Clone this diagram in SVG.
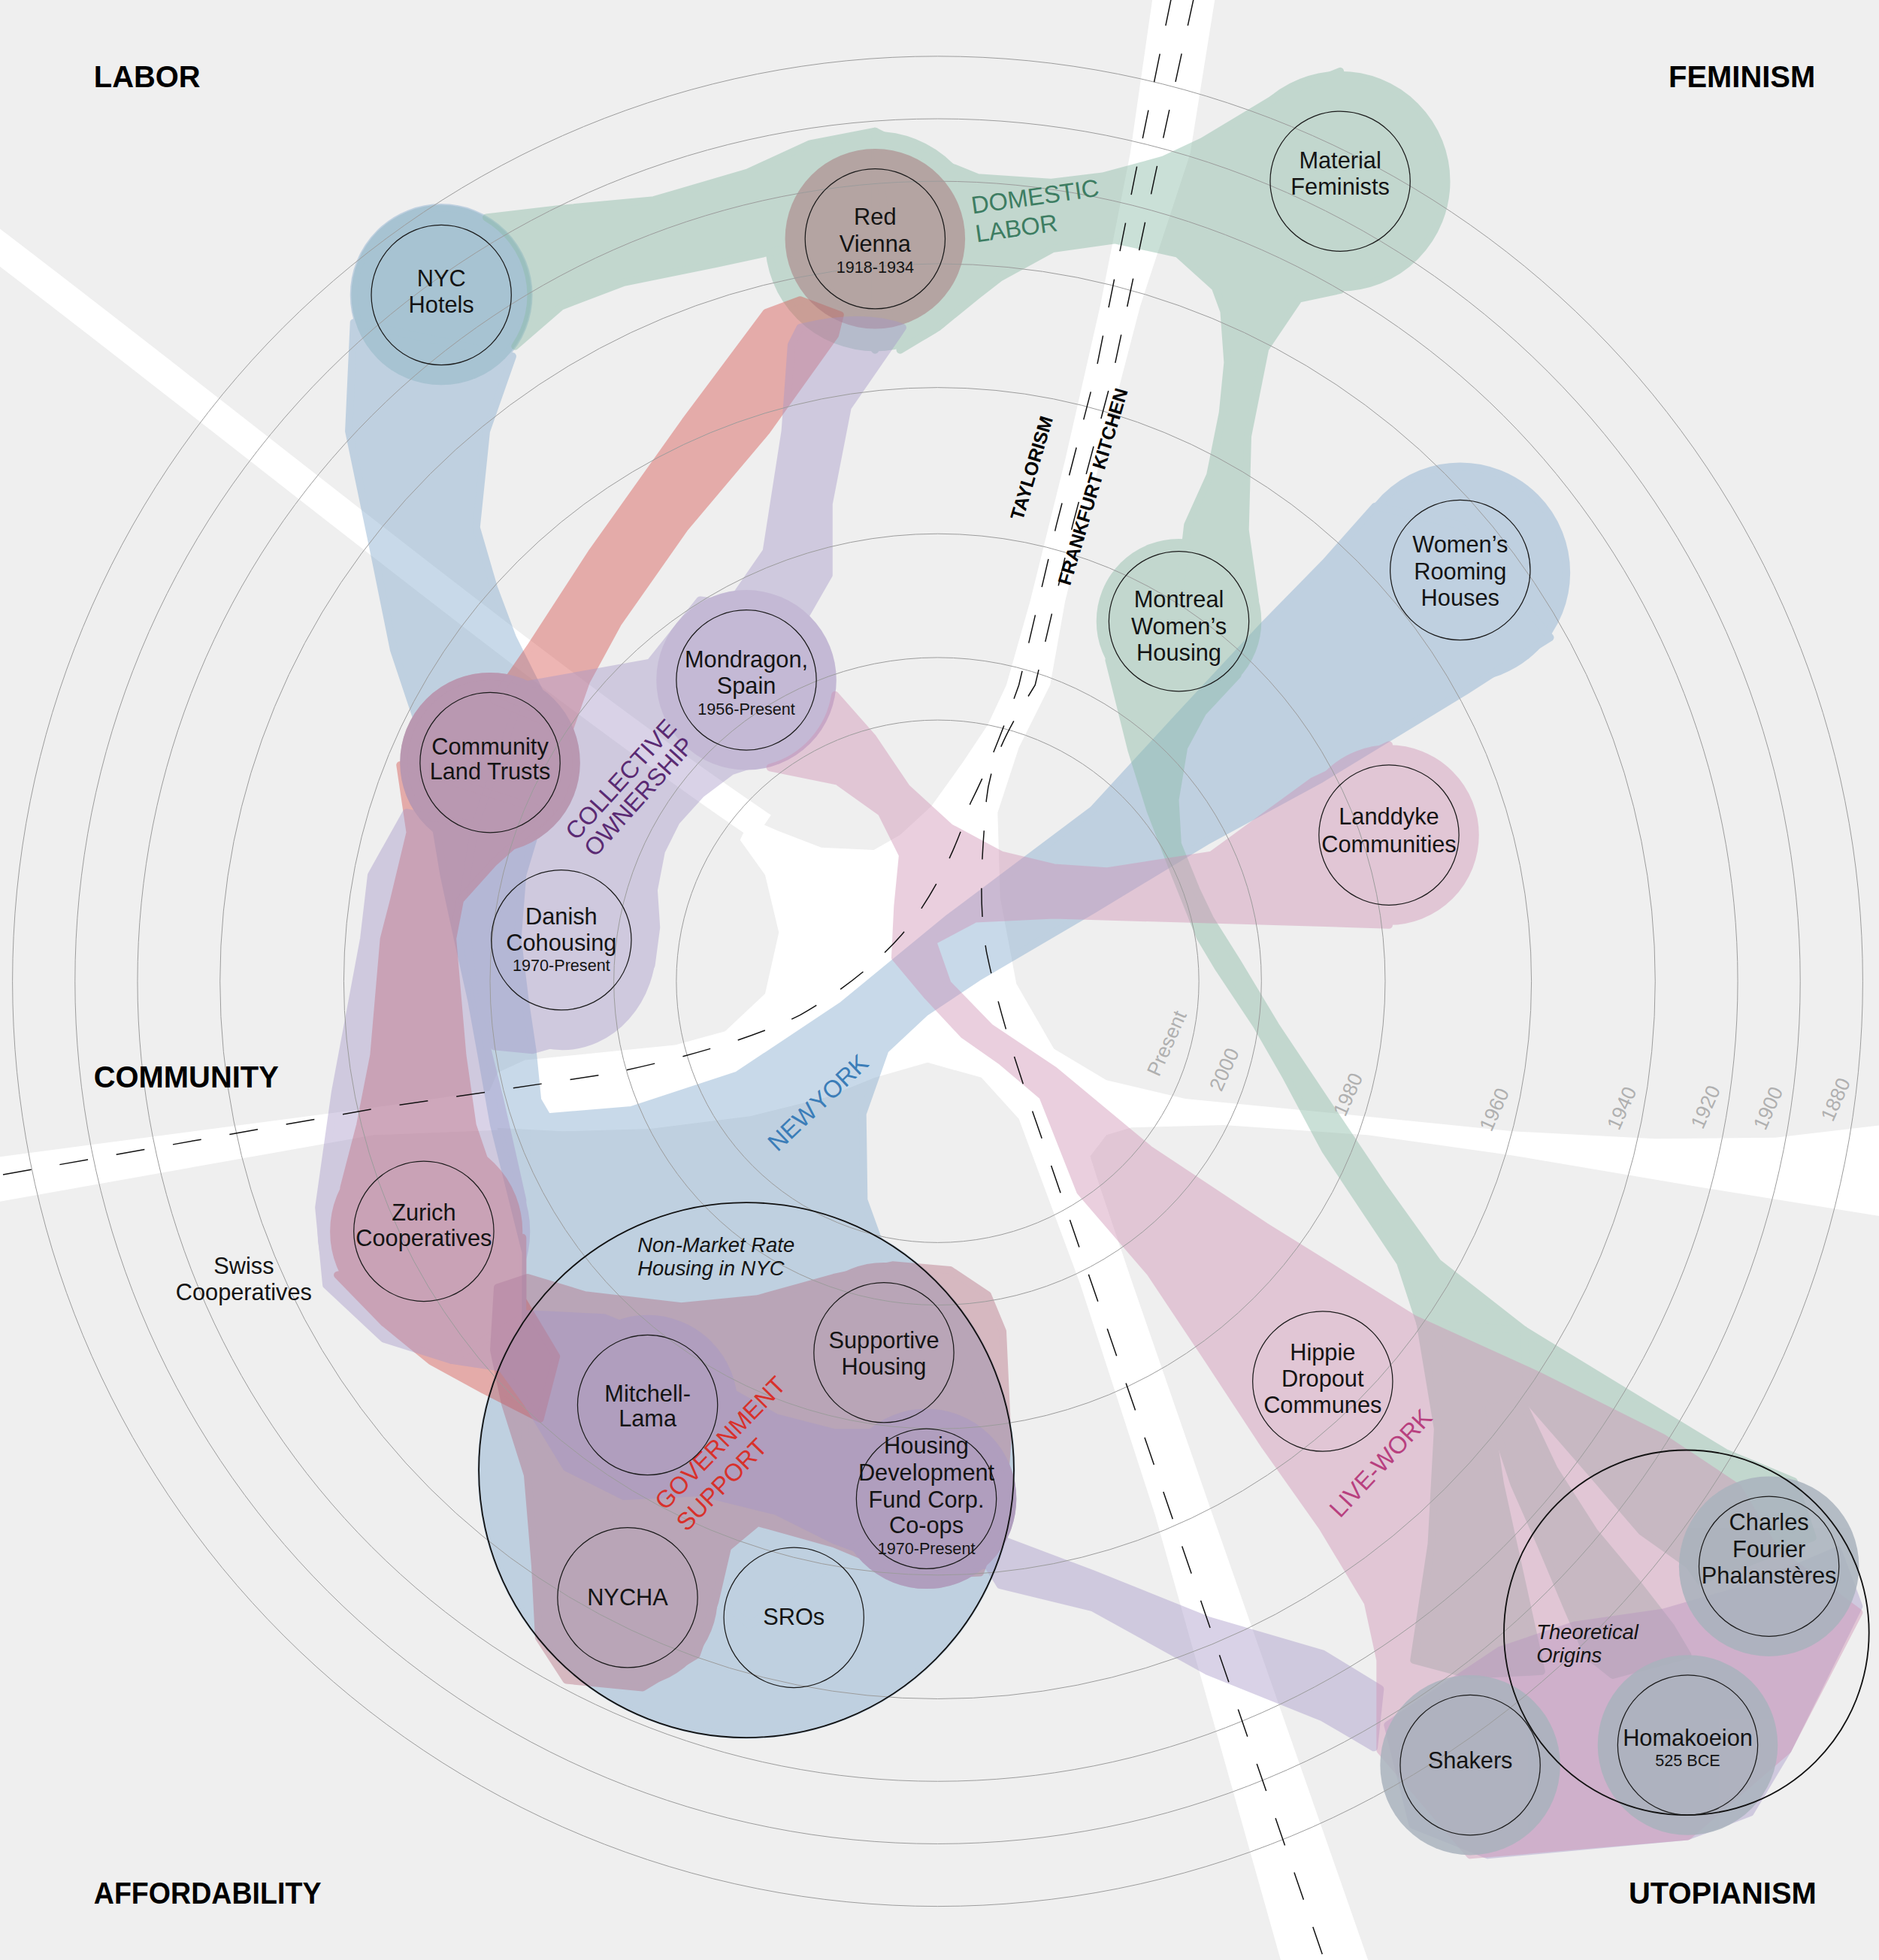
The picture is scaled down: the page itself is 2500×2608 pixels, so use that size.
<svg xmlns="http://www.w3.org/2000/svg" width="2500" height="2608" viewBox="0 0 2500 2608">
<style>
.ring{fill:none;stroke:#9c9c9c;stroke-width:0.6}
.nc{fill:none;stroke:#1a1a1a;stroke-width:0.75}
.big{fill:none;stroke:#111;stroke-width:1.1}
.t{font-family:"Liberation Sans",Arial,sans-serif;font-size:18.5px;fill:#141414;text-anchor:middle}
.d{font-size:13px}
.it{font-family:"Liberation Sans",Arial,sans-serif;font-style:italic;font-size:16.5px;fill:#141414}
.cat{font-family:"Liberation Sans",Arial,sans-serif;font-weight:bold;font-size:24px;fill:#000}
.yr{font-family:"Liberation Sans",Arial,sans-serif;font-size:16px;fill:#b0b0b0}
.grp{font-family:"Liberation Sans",Arial,sans-serif;font-size:19.5px}
.rd{font-family:"Liberation Sans",Arial,sans-serif;font-weight:bold;font-size:15px;fill:#000}
.dash{fill:none;stroke:#111;stroke-width:0.9;stroke-dasharray:23 23}
.bl{stroke-width:6;stroke-linejoin:round}
</style>
<rect width="2500" height="2608" fill="#efefef"/>
<g transform="scale(1.66334)">
<g id="roads" fill="#fff">
<path d="M922,-2 L904,123 L880,245 L852,368 L824,481 L805,548 L790,580 L770,610 L745,645 L720,668 L699,680 L657,678 L623,665 L600,655 L592,672 L612,700 L623,746 L612,795 L580,825 L540,836 L480,842 L420,848 L398,858 L391,874 L391,902 L450,905 L520,903 L600,893 L660,878 L700,862 L742,850 L785,862 L815,895 L864,1027 L924,1212 L1025,1570 L1095,1570 L970,1212 L906,1027 L880,950 L872,925 L885,908 L905,902 L979,900 L1094,908 L1208,924 L1362,950 L1505,973 L1505,900 L1420,910 L1324,911 L1210,905 L1082,892 L948,879 L885,864 L843,839 L813,787 L800,718 L798,650 L815,598 L840,548 L852,481 L880,368 L912,245 L952,123 L972,-2 Z"/>
<path d="M-5,926 L299,886 L395,872 L398,904 L299,908 L-5,962 Z"/>
<path d="M-20,183 C200,350 430,540 610,662" fill="none" stroke="#fff" stroke-width="24"/>
</g>
<g id="connectors">
<g id="new-york" opacity="0.42" fill="#7ea7cc" stroke="#7ea7cc" class="bl">
<circle cx="353" cy="236" r="70"/>
<circle cx="392" cy="610" r="69"/>
<circle cx="1168" cy="458" r="85"/>
<circle cx="597" cy="1176" r="212"/>
<circle cx="741" cy="1199" r="69"/>
<path d="M283,258 L279,345 L299,441 L315,520 L335,580 L345,640 L355,700 L366,751 L377,800 L385,844 L395,900 L420,1000 L500,1000 L430,880 L426,840 L420,800 L414,751 L418,700 L430,660 L445,610 L435,560 L410,510 L395,470 L381,422 L389,345 L410,285 Z"/>
<path d="M421,895 L505,888 L590,860 L674,804 L758,735 L874,648 L943,573 L1012,499 L1060,450 L1100,405 L1168,420 L1240,510 L1200,535 L1172,553 L1057,623 L965,673 L874,728 L782,782 L740,810 L708,840 L690,891 L691,960 L716,1029 L758,1060 L800,1150 L600,1300 L420,1150 Z"/>
</g>
<g id="nyc-hotels-halo" opacity="0.25" fill="#5f9aa8">
<circle cx="353" cy="236" r="72"/>
</g>
<g id="domestic-labor" opacity="0.45" fill="#8cbca8" stroke="#8cbca8" class="bl">
<circle cx="700" cy="193" r="85"/>
<circle cx="1072" cy="145" r="85"/>
<circle cx="943" cy="497" r="63"/>
<path d="M389,174 L449,167 L523,160 L598,138 L648,115 L700,105 L700,280 L650,212 L628,199 L573,211 L499,226 L449,245 L412,277 A72,72 0 0,0 389,174 Z"/>
<path d="M700,105 L740,125 L782,142 L840,146 L882,141 L930,128 L962,113 L1022,77 L1072,57 L1072,232 L1039,239 L1012,279 L998,349 L996,424 L1004,480 L943,480 L950,420 L968,380 L978,330 L982,290 L979,249 L972,230 L942,203 L892,192 L842,199 L800,222 L782,236 L750,262 L720,280 Z"/>
<path d="M887,528 L905,600 L920,648 L940,700 L960,750 L975,775 L1005,820 L1028,860 L1060,920 L1090,965 L1120,1010 L1136,1059 L1219,1064 L1150,1010 L1107,950 L1060,880 L1020,820 L990,770 L968,735 L957,712 L942,675 L940,640 L947,598 L962,570 L990,540 Z"/>
<path d="M1136,1059 L1219,1064 L1222,1120 L1191,1127 Z"/>
<path d="M1136,1059 L1191,1127 L1200,1187 L1211,1237 L1222,1287 L1233,1337 L1176,1340 L1131,1328 L1145,1235 L1150,1143 Z"/>
<path d="M1191,1127 L1217,1120 L1243,1175 L1275,1225 L1310,1267 L1337,1302 L1350,1324 L1290,1340 L1270,1324 L1254,1287 L1233,1237 L1211,1187 Z"/>
<path d="M1219,1064 L1311,1120 L1380,1162 L1435,1185 L1450,1230 L1360,1265 L1351,1252 L1313,1225 L1270,1175 L1222,1120 Z"/>
</g>
<g id="government-support" opacity="0.42" fill="#d6504b" stroke="#d6504b" class="bl">
<circle cx="392" cy="610" r="69"/>
<circle cx="341" cy="985" r="74"/>
<path d="M640,240 L613,250 L548,337 L474,441 L424,518 L395,560 L455,585 L469,545 L494,499 L548,422 L613,345 L668,268 L672,252 Z"/>
<path d="M320,612 L328,666 L315,720 L307,751 L299,844 L288,900 L275,950 L395,950 L378,900 L370,844 L362,751 L368,720 L395,690 L440,650 Z"/>
<path d="M270,1020 L307,1058 L345,1089 L387,1112 L432,1135 L445,1085 L418,1040 L418,990 Z"/>
</g>
<g id="government-support-nyc" opacity="0.4" fill="#b1677c" stroke="#b1677c" class="bl">
<circle cx="518" cy="1124" r="69"/>
<circle cx="707" cy="1082" r="69"/>
<circle cx="741" cy="1199" r="69"/>
<circle cx="502" cy="1278" r="69"/>
<path d="M398,1030 L422,1022 L468,1036 L545,1045 L606,1039 L667,1022 L714,1012 L760,1016 L790,1036 L802,1065 L806,1151 L802,1209 L784,1258 L729,1261 L667,1235 L606,1218 L582,1238 L572,1281 L557,1324 L514,1350 L453,1344 L431,1310 L428,1252 L422,1180 L404,1123 L395,1080 Z"/>
</g>
<g id="red-vienna-halo" opacity="0.5" fill="#a67276">
<circle cx="700" cy="191" r="72"/>
</g>
<g id="collective-ownership" opacity="0.42" fill="#a596c8" stroke="#a596c8" class="bl">
<circle cx="597" cy="544" r="69"/>
<circle cx="392" cy="610" r="69"/>
<ellipse cx="450" cy="756" rx="72" ry="81"/>
<circle cx="339" cy="985" r="82"/>
<circle cx="518" cy="1124" r="69"/>
<circle cx="741" cy="1199" r="69"/>
<path d="M640,262 Q690,250 722,262 L718,268 L678,326 L663,403 L663,460 L640,500 L560,560 L460,600 L440,560 L470,548 L520,530 L573,499 L613,441 L628,345 L633,276 Z"/>
<path d="M420,548 L520,530 L560,480 L640,490 L650,560 L600,612 L585,617 L561,635 L541,657 L529,681 L523,712 L525,742 L521,772 L506,800 L472,827 L426,840 L395,837 L375,800 L370,700 L380,660 Z"/>
<path d="M325,650 L297,700 L291,751 L268,874 L255,966 L261,1028 L307,1071 L361,1088 L418,1058 L418,960 L400,880 L380,800 L370,720 L380,660 Z"/>
<path d="M361,1088 L422,1051 L483,1054 L545,1079 L575,1108 L621,1134 L667,1146 L714,1146 L775,1148 L800,1231 L874,1259 L966,1296 L1058,1323 L1104,1351 L1099,1398 L1058,1374 L966,1337 L874,1286 L800,1268 L790,1252 L729,1255 L667,1232 L621,1209 L560,1194 L499,1197 L453,1174 L422,1123 L401,1094 Z"/>
<path d="M1110,1380 L1200,1320 L1260,1300 L1330,1290 L1400,1270 L1470,1240 L1487,1285 L1430,1400 L1400,1450 L1350,1469 L1190,1484 L1130,1460 Z"/>
</g>
<g id="mondragon-halo" opacity="0.2" fill="#9a7fb5">
<circle cx="597" cy="544" r="72"/>
</g>
<g id="live-work" opacity="0.42" fill="#cf8fb3" stroke="#cf8fb3" class="bl">
<circle cx="1111" cy="668" r="69"/>
<path d="M616,614 L670,625 L705,650 L722,684 L718,725 L716,766 L742,797 L771,828 L801,849 L834,877 L864,953 L920,1018 L966,1087 L1012,1157 L1058,1222 L1094,1282 L1104,1328 L1104,1400 L1176,1484 L1350,1469 L1430,1400 L1487,1290 L1420,1240 L1390,1190 L1330,1150 L1230,1100 L1131,1055 L1012,981 L920,920 L843,856 L792,822 L758,787 L746,753 L780,735 L843,732 L1082,739 L1111,740 L1111,596 L1050,625 L969,684 L885,697 L843,694 L801,684 L760,662 L725,630 L698,590 L668,556 A72,72 0 0,1 616,614 Z"/>
</g>
<g id="utopian-halos" opacity="0.85" fill="#a9b3bd">
<circle cx="1176" cy="1412" r="72"/>
<circle cx="1350" cy="1396" r="72"/>
<circle cx="1415" cy="1253" r="72"/>
</g>
</g>
<g id="rings">
<circle class="ring" cx="750" cy="785" r="209"/>
<circle class="ring" cx="750" cy="785" r="259"/>
<circle class="ring" cx="750" cy="785" r="358"/>
<circle class="ring" cx="750" cy="785" r="475"/>
<circle class="ring" cx="750" cy="785" r="574"/>
<circle class="ring" cx="750" cy="785" r="640"/>
<circle class="ring" cx="750" cy="785" r="690"/>
<circle class="ring" cx="750" cy="785" r="740"/>
</g>
<g id="road-lines">
<path class="dash" d="M937,-2 L908,140 L876,300 L845,420 L815,548 C800,590 790,615 776,643 C765,680 745,720 721,748 C700,772 670,795 640,812 C600,832 540,848 487,859 L299,887 L-5,941"/>
<path class="dash" d="M955,-2 L924,140 L890,300 L858,420 L828,548 C805,585 792,610 789,640 C786,680 782,720 789,761 C795,790 805,830 829,898 L1060,1570"/>
<text class="rd" transform="translate(818,417) rotate(-73.5)">TAYLORISM</text>
<text class="rd" transform="translate(856,469) rotate(-73.5)">FRANKFURT KITCHEN</text>
</g>
<g id="years">
<text class="yr" transform="translate(927,862) rotate(-66)">Present</text>
<text class="yr" transform="translate(977,874) rotate(-66)">2000</text>
<text class="yr" transform="translate(1076,894) rotate(-66)">1980</text>
<text class="yr" transform="translate(1193,906) rotate(-66)">1960</text>
<text class="yr" transform="translate(1295,905) rotate(-66)">1940</text>
<text class="yr" transform="translate(1362,904) rotate(-66)">1920</text>
<text class="yr" transform="translate(1412,905) rotate(-66)">1900</text>
<text class="yr" transform="translate(1466,898) rotate(-66)">1880</text>
</g>
<g id="categories">
<text class="cat" x="75" y="70">LABOR</text>
<text class="cat" x="1452" y="70" text-anchor="end">FEMINISM</text>
<text class="cat" x="75" y="870">COMMUNITY</text>
<text class="cat" x="75" y="1523" textLength="182" lengthAdjust="spacingAndGlyphs">AFFORDABILITY</text>
<text class="cat" x="1453" y="1523" text-anchor="end">UTOPIANISM</text>
</g>
<g id="group-labels">
<text class="grp" fill="#3d7d62" transform="translate(778,171) rotate(-8)"><tspan x="0" y="0">DOMESTIC</tspan><tspan x="0" y="23">LABOR</tspan></text>
<text class="grp" fill="#5a2a73" font-size="18" transform="translate(461,673) rotate(-48)"><tspan x="0" y="0">COLLECTIVE</tspan><tspan x="0" y="20">OWNERSHIP</tspan></text>
<text class="grp" fill="#3b7db8" word-spacing="-4" transform="translate(622,922) rotate(-43.5)">NEW YORK</text>
<text class="grp" fill="#d8312b" transform="translate(532,1209) rotate(-45.6)"><tspan x="0" y="0">GOVERNMENT</tspan><tspan x="0" y="24">SUPPORT</tspan></text>
<text class="grp" fill="#b8407f" transform="translate(1072,1215) rotate(-47)">LIVE-WORK</text>
</g>
<g id="node-nyc-hotels"><circle class="nc" cx="353" cy="236" r="56"/><text class="t" x="353" y="229">NYC</text><text class="t" x="353" y="250">Hotels</text></g>
<g id="node-red-vienna"><circle class="nc" cx="700" cy="191" r="56"/><text class="t" x="700" y="180">Red</text><text class="t" x="700" y="201.5">Vienna</text><text class="t d" x="700" y="218">1918-1934</text></g>
<g id="node-material-feminists"><circle class="nc" cx="1072" cy="145" r="56"/><text class="t" x="1072" y="134.5">Material</text><text class="t" x="1072" y="155.5">Feminists</text></g>
<g id="node-montreal"><circle class="nc" cx="943" cy="497" r="56"/><text class="t" x="943" y="486">Montreal</text><text class="t" x="943" y="507.5">Women’s</text><text class="t" x="943" y="528.5">Housing</text></g>
<g id="node-womens-rooming"><circle class="nc" cx="1168" cy="456" r="56"/><text class="t" x="1168" y="442">Women’s</text><text class="t" x="1168" y="463.5">Rooming</text><text class="t" x="1168" y="484.5">Houses</text></g>
<g id="node-landdyke"><circle class="nc" cx="1111" cy="668" r="56"/><text class="t" x="1111" y="659.5">Landdyke</text><text class="t" x="1111" y="681.5">Communities</text></g>
<g id="node-mondragon"><circle class="nc" cx="597" cy="544" r="56"/><text class="t" x="597" y="534">Mondragon,</text><text class="t" x="597" y="555">Spain</text><text class="t d" x="597" y="572">1956-Present</text></g>
<g id="node-clt"><circle class="nc" cx="392" cy="610" r="56"/><text class="t" x="392" y="603.5">Community</text><text class="t" x="392" y="623.5">Land Trusts</text></g>
<g id="node-danish"><circle class="nc" cx="449" cy="752" r="56"/><text class="t" x="449" y="739.5">Danish</text><text class="t" x="449" y="760.5">Cohousing</text><text class="t d" x="449" y="777">1970-Present</text></g>
<g id="node-zurich"><circle class="nc" cx="339" cy="985" r="56"/><text class="t" x="339" y="976.5">Zurich</text><text class="t" x="339" y="997">Cooperatives</text></g>
<g id="node-swiss"><text class="t" x="195" y="1019">Swiss</text><text class="t" x="195" y="1040">Cooperatives</text></g>
<g id="node-nyc-nonmarket"><circle class="big" cx="597" cy="1176" r="214"/><text class="it" x="510" y="1001.5">Non-Market Rate</text><text class="it" x="510" y="1020">Housing in NYC</text></g>
<g id="node-mitchell-lama"><circle class="nc" cx="518" cy="1124" r="56"/><text class="t" x="518" y="1121">Mitchell-</text><text class="t" x="518" y="1141">Lama</text></g>
<g id="node-supportive"><circle class="nc" cx="707" cy="1082" r="56"/><text class="t" x="707" y="1078.5">Supportive</text><text class="t" x="707" y="1099.5">Housing</text></g>
<g id="node-hdfc"><circle class="nc" cx="741" cy="1199" r="56"/><text class="t" x="741" y="1163">Housing</text><text class="t" x="741" y="1184.5">Development</text><text class="t" x="741" y="1206">Fund Corp.</text><text class="t" x="741" y="1226.5">Co-ops</text><text class="t d" x="741" y="1243.5">1970-Present</text></g>
<g id="node-nycha"><circle class="nc" cx="502" cy="1278" r="56"/><text class="t" x="502" y="1284">NYCHA</text></g>
<g id="node-sros"><circle class="nc" cx="635" cy="1294" r="56"/><text class="t" x="635" y="1300">SROs</text></g>
<g id="node-hippie"><circle class="nc" cx="1058" cy="1105" r="56"/><text class="t" x="1058" y="1088">Hippie</text><text class="t" x="1058" y="1109.5">Dropout</text><text class="t" x="1058" y="1130">Communes</text></g>
<g id="node-theoretical-origins"><circle class="big" cx="1349" cy="1306" r="146"/><text class="it" x="1229" y="1311.5">Theoretical</text><text class="it" x="1229" y="1330">Origins</text></g>
<g id="node-fourier"><circle class="nc" cx="1415" cy="1253" r="56"/><text class="t" x="1415" y="1224">Charles</text><text class="t" x="1415" y="1245.5">Fourier</text><text class="t" x="1415" y="1266.5">Phalanstères</text></g>
<g id="node-shakers"><circle class="nc" cx="1176" cy="1412" r="56"/><text class="t" x="1176" y="1414.5">Shakers</text></g>
<g id="node-homakoeion"><circle class="nc" cx="1350" cy="1396" r="56"/><text class="t" x="1350" y="1396.5">Homakoeion</text><text class="t d" x="1350" y="1413">525 BCE</text></g>
</g>
</svg>
